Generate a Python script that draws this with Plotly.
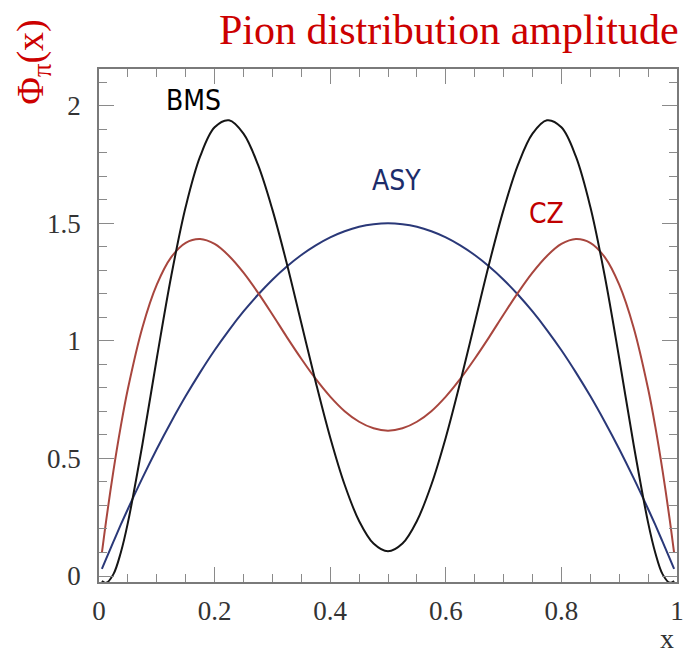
import plotly.graph_objects as go

x_vals = [0.005, 0.0125, 0.025, 0.0375, 0.05, 0.075, 0.1, 0.125, 0.15, 0.175, 0.2, 0.225, 0.25,
          0.275, 0.3, 0.325, 0.35, 0.375, 0.4, 0.425, 0.45, 0.475, 0.5,
          0.525, 0.55, 0.575, 0.6, 0.625, 0.65, 0.675, 0.7, 0.725, 0.75, 0.775, 0.8,
          0.825, 0.85, 0.875, 0.9, 0.925, 0.95, 0.9625, 0.975, 0.9875, 0.995]

asy_vals = [0.030, 0.074, 0.146, 0.217, 0.285, 0.416, 0.540, 0.656, 0.765, 0.866, 0.960, 1.046, 1.125,
            1.196, 1.260, 1.316, 1.365, 1.406, 1.440, 1.466, 1.485, 1.496, 1.500,
            1.496, 1.485, 1.466, 1.440, 1.406, 1.365, 1.316, 1.260, 1.196, 1.125, 1.046, 0.960,
            0.866, 0.765, 0.656, 0.540, 0.416, 0.285, 0.217, 0.146, 0.074, 0.030]

cz_vals = [0.098, 0.238, 0.448, 0.634, 0.796, 1.056, 1.239, 1.356, 1.417, 1.433, 1.412, 1.361, 1.290,
           1.205, 1.112, 1.016, 0.924, 0.838, 0.763, 0.701, 0.656, 0.628, 0.618,
           0.628, 0.656, 0.701, 0.763, 0.838, 0.924, 1.016, 1.112, 1.205, 1.290, 1.361, 1.412,
           1.433, 1.417, 1.356, 1.239, 1.056, 0.796, 0.634, 0.448, 0.238, 0.098]

bms_vals = [-0.021, -0.029, 0.008, 0.098, 0.227, 0.558, 0.926, 1.276, 1.570, 1.784, 1.908, 1.938, 1.881,
            1.749, 1.558, 1.328, 1.076, 0.824, 0.589, 0.388, 0.234, 0.138, 0.105,
            0.138, 0.234, 0.388, 0.589, 0.824, 1.076, 1.328, 1.558, 1.749, 1.881, 1.938, 1.908,
            1.784, 1.570, 1.276, 0.926, 0.558, 0.227, 0.098, 0.008, -0.029, -0.021]

x_ticks = [0, 0.2, 0.4, 0.6, 0.8, 1]
x_tick_text = ["0", "0.2", "0.4", "0.6", "0.8", "1"]
y_ticks = [0, 0.5, 1, 1.5, 2]
y_tick_text = ["0", "0.5", "1", "1.5", "2"]

fig = go.Figure()
fig.add_trace(go.Scatter(x=x_vals, y=asy_vals, mode="lines", name="ASY",
                         line=dict(color="#2a3878", width=2, shape="spline")))
fig.add_trace(go.Scatter(x=x_vals, y=cz_vals, mode="lines", name="CZ",
                         line=dict(color="#a8463e", width=2, shape="spline")))
fig.add_trace(go.Scatter(x=x_vals, y=bms_vals, mode="lines", name="BMS",
                         line=dict(color="#151515", width=2, shape="spline")))

axis_common = dict(showline=True, linecolor="#7a7a7a", linewidth=1.5, mirror="ticks",
                   ticks="inside", tickcolor="#8a8a8a", showgrid=False, zeroline=False,
                   tickfont=dict(family="Liberation Serif", size=27, color="#333333"))

fig.update_xaxes(range=[0, 1], tickvals=x_ticks, ticktext=x_tick_text, ticklen=15,
                 minor=dict(ticks="inside", dtick=0.05, ticklen=8, tickcolor="#8a8a8a"),
                 ticklabelstandoff=4, **axis_common)
fig.update_yaxes(range=[-0.0255, 2.156], tickvals=y_ticks, ticktext=y_tick_text, ticklen=15,
                 minor=dict(ticks="inside", dtick=0.1, ticklen=8, tickcolor="#8a8a8a"),
                 ticklabelstandoff=11, **axis_common)

label_font = "DejaVu Sans Condensed, Roboto"
fig.add_annotation(x=0.163, y=2.024, text="BMS", showarrow=False, xref="x", yref="y",
                   font=dict(family=label_font, size=28, color="#000000"))
fig.add_annotation(x=0.515, y=1.68, text="ASY", showarrow=False, xref="x", yref="y",
                   font=dict(family=label_font, size=28, color="#1c2c6a"))
fig.add_annotation(x=0.775, y=1.543, text="CZ", showarrow=False, xref="x", yref="y",
                   font=dict(family=label_font, size=28, color="#c00000"))

FW, FH = 695, 659
ML, MR, MT, MB = 99, 11, 69, 77
fig.update_layout(
    width=FW, height=FH,
    margin=dict(l=ML, r=MR, t=MT, b=MB),
    paper_bgcolor="white", plot_bgcolor="white",
    showlegend=False,
)

W, H = FW - ML - MR, FH - MT - MB
def px(xp):
    return (xp - ML) / W
def py(yp):
    return (FH - MB - yp) / H

fig.add_annotation(x=px(688), y=py(30), text="Pion distribution amplitude", showarrow=False,
                   xref="paper", yref="paper", xanchor="right", yanchor="middle",
                   font=dict(family="Liberation Serif", size=42, color="#cc0000"))
fig.add_annotation(x=px(32), y=py(62), text="Φ<sub>π</sub>(x)", textangle=-90, showarrow=False,
                   xref="paper", yref="paper", xanchor="center", yanchor="middle",
                   font=dict(family="Liberation Serif", size=38, color="#cc0000"))
fig.add_annotation(x=px(674), y=py(638), text="x", showarrow=False,
                   xref="paper", yref="paper", xanchor="center", yanchor="middle",
                   font=dict(family="Liberation Serif", size=28, color="#333333"))

# remove the default 8px page margin so the figure fills the window exactly
fig.write_html("out.html", config={"displayModeBar": False},
               post_script="document.body.style.margin='0px';document.body.style.overflow='hidden';")
